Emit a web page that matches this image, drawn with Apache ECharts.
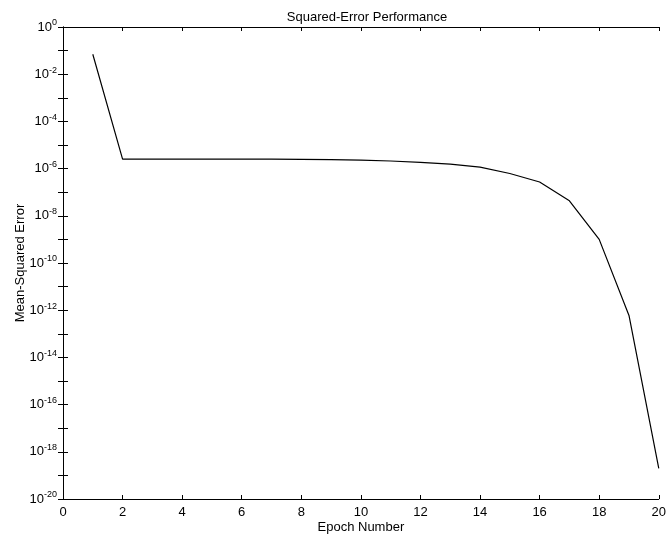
<!DOCTYPE html>
<html><head><meta charset="utf-8">
<script src="https://cdn.jsdelivr.net/npm/echarts@6/dist/echarts.min.js"></script>
<style>html,body{margin:0;padding:0;background:#fff}#c{width:669px;height:540px}</style>
</head><body><div id="c"></div>
<script>
const epochs = [1,2,3,4,5,6,7,8,9,10,11,12,13,14,15,16,17,18,19,20];
const mse = [7e-2,2.5e-6,2.5e-6,2.5e-6,2.5e-6,2.5e-6,2.5e-6,2.45e-6,2.4e-6,2.3e-6,2.1e-6,1.85e-6,1.55e-6,1.15e-6,6.2e-7,2.7e-7,4.3e-8,1e-9,6e-13,2e-19];
const xTicks = [0,2,4,6,8,10,12,14,16,18,20];
const font = 'Liberation Sans, Arial, sans-serif';
const chart = echarts.init(document.getElementById('c'), null, {renderer:'canvas'});
const sup = {sup:{fontSize:9, verticalAlign:'top', padding:[0,0,8,0], fontFamily:font, color:'#000'}};
function yLab(v){
  const e = Math.round(Math.log10(v));
  if (e % 2 !== 0) return '';
  return '{b|10}{sup|' + e + '}';
}
const axisLine = {show:true, lineStyle:{color:'#000', width:1}};
chart.setOption({
  animation:false,
  title:{text:'Squared-Error Performance', left:362, textAlign:'center', top:6, textStyle:{fontFamily:font, fontSize:13, fontWeight:'normal', color:'#000'}},
  grid:{left:63, right:8, top:27, bottom:41},
  xAxis:[{
    type:'value', min:0, max:20, interval:2, position:'bottom',
    name:'Epoch Number', nameLocation:'middle', nameGap:22, nameMoveOverlap:false,
    nameTextStyle:{fontFamily:font, fontSize:13, color:'#000'},
    axisLine:axisLine, axisTick:{inside:true, length:4, lineStyle:{color:'#000'}},
    axisLabel:{fontFamily:font, fontSize:13, color:'#000', margin:7, formatter:v=>xTicks.includes(v)?String(v):''},
    splitLine:{show:false}
  },{
    type:'value', min:0, max:20, interval:2, position:'top',
    axisLine:axisLine, axisTick:{inside:true, length:4, lineStyle:{color:'#000'}},
    axisLabel:{show:false}, splitLine:{show:false}
  }],
  yAxis:[{
    type:'log', logBase:10, min:1e-20, max:1, interval:1, position:'left',
    name:'Mean-Squared Error', nameLocation:'middle', nameGap:36, nameRotate:90, nameMoveOverlap:false,
    nameTextStyle:{fontFamily:font, fontSize:13, color:'#000'},
    axisLine:axisLine, axisTick:{inside:true, length:5, lineStyle:{color:'#000'}},
    axisLabel:{formatter:yLab, margin:6, rich:Object.assign({b:{fontFamily:font, fontSize:13, color:'#000'}}, sup)},
    splitLine:{show:false}
  },{
    type:'log', logBase:10, min:1e-20, max:1, interval:1, position:'right',
    axisLine:axisLine, axisTick:{inside:true, length:5, lineStyle:{color:'#000'}},
    axisLabel:{show:false}, splitLine:{show:false}
  }],
  series:[{
    type:'line', data:epochs.map((e,i)=>[e,mse[i]]), showSymbol:false, symbol:'none',
    lineStyle:{color:'#000', width:1.2}, xAxisIndex:0, yAxisIndex:0
  }]
});
</script></body></html>
